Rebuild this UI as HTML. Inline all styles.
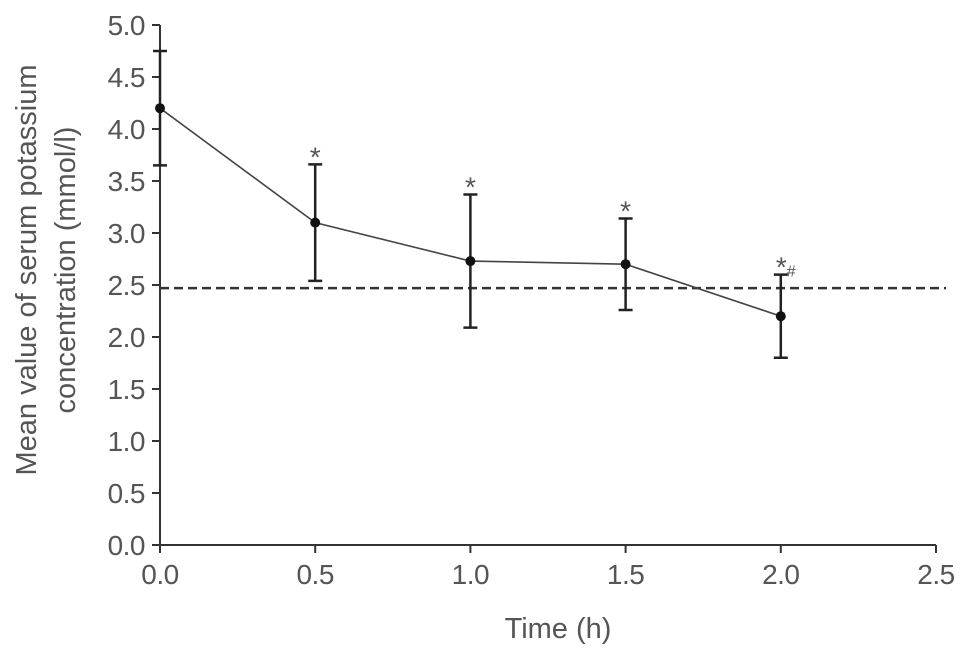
<!DOCTYPE html>
<html><head><meta charset="utf-8"><style>
body{margin:0;background:#fff}
svg text{font-family:"Liberation Sans",sans-serif;fill:#555}
</style></head><body>
<svg width="969" height="656" id="chart">
</svg>
<script>
const xTicks=[0,0.5,1.0,1.5,2.0,2.5];
const yTicks=[0,0.5,1,1.5,2,2.5,3,3.5,4,4.5,5];
const times=[0,0.5,1.0,1.5,2.0];
const means=[4.2,3.1,2.73,2.7,2.2];
const errs=[0.55,0.56,0.64,0.44,0.4];
const marks=["","*","*","*","*#"];
const refLine=2.47;
const X=v=>160+v*310.4, Y=v=>545-v*104;
const svg=document.getElementById('chart');
function el(t,a,txt){const e=document.createElementNS('http://www.w3.org/2000/svg',t);for(const k in a)e.setAttribute(k,a[k]);if(txt!==undefined)e.textContent=txt;svg.appendChild(e);return e;}
let e;
e=el('line',{x1:160,y1:Y(5),x2:160,y2:545,stroke:'#333','stroke-width':2});


e=el('line',{x1:160,y1:545,x2:X(2.5),y2:545,stroke:'#333','stroke-width':2});


yTicks.forEach(v=>{
 e=el('line',{x1:152,y1:Y(v),x2:160,y2:Y(v),stroke:'#333','stroke-width':2});
 
 
 e=el('text',{x:145,y:Y(v)+10,'text-anchor':'end','font-size':28,'letter-spacing':'-0.5'},v.toFixed(1));
 
 
});
xTicks.forEach(v=>{
 e=el('line',{x1:X(v),y1:545,x2:X(v),y2:553,stroke:'#333','stroke-width':2});
 
 
 e=el('text',{x:X(v),y:584,'text-anchor':'middle','font-size':28,'letter-spacing':'-0.5'},v.toFixed(1));
 
 
});
e=el('text',{x:X(1.25)+10,y:638,'text-anchor':'middle','font-size':29},'Time (h)');


e=el('text',{transform:'translate(36,270) rotate(-90)','text-anchor':'middle','font-size':29},'Mean value of serum potassium');


e=el('text',{transform:'translate(75,270) rotate(-90)','text-anchor':'middle','font-size':29},'concentration (mmol/l)');


e=el('line',{x1:160,y1:Y(refLine),x2:946,y2:Y(refLine),stroke:'#333','stroke-width':2.5,'stroke-dasharray':'9,5'});


e=el('polyline',{points:times.map((t,i)=>X(t)+','+Y(means[i])).join(' '),fill:'none',stroke:'#444','stroke-width':1.6});


times.forEach((t,i)=>{
 const x=X(t),t1=Y(means[i]+errs[i]),b=Y(means[i]-errs[i]);
 e=el('path',{d:`M${x},${t1}V${b}M${x-7},${t1}H${x+7}M${x-7},${b}H${x+7}`,stroke:'#222','stroke-width':2.5,fill:'none'});
 
 
 e=el('circle',{cx:x,cy:Y(means[i]),r:5,fill:'#111'});
 
 
 if(marks[i]){
  e=el('text',{x:x,y:t1+2,'text-anchor':'middle','font-size':28,fill:'#999'});
  
  
  const s=marks[i];
  e.innerHTML='<tspan>*</tspan>'+(s.length>1?'<tspan font-size="16">#</tspan>':'');
  e.setAttribute('x',x+(s.length>1?5:0));
 }
});
</script>
</body></html>
